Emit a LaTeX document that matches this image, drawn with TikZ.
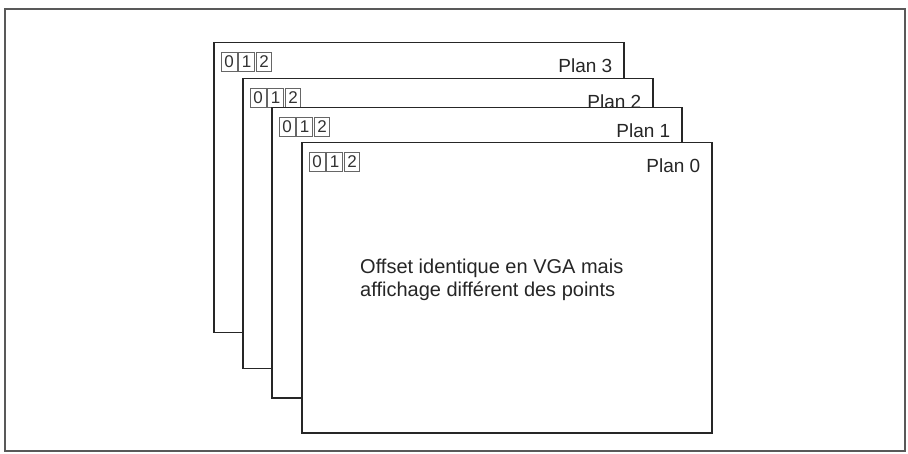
\documentclass[tikz,border=0pt]{standalone}
\usepackage{fontspec}
\setmainfont{Liberation Sans}
\begin{document}
\begin{tikzpicture}[x=1pt,y=-1pt,
  frame/.style={draw=black!65, line width=1.6pt},
  planbox/.style={draw=black!85, fill=white, line width=1.5pt, inner sep=0pt,
    minimum width=410pt, minimum height=290pt, anchor=north west},
  digitbox/.style={draw=black!60, line width=0.9pt, minimum width=15.5pt,
    minimum height=19pt, inner sep=0pt, font=\fontsize{17}{17}\selectfont, text=black!80},
  planlabel/.style={font=\fontsize{19}{19}\selectfont, text=black!85, inner sep=0pt, anchor=base east},
  captiontext/.style={anchor=north west, inner sep=0pt, align=left,
    font=\fontsize{20}{22.5}\selectfont, text=black!85}]
\useasboundingbox (0,0) rectangle (908,454);
\draw[frame] (5,9) rectangle (905,451);
\foreach \k/\l/\t in {3/213/42, 2/242/78, 1/271/107, 0/301/142}{
  \node[planbox] (plan\k) at (\l,\t) {};
  \node[planlabel] (lab\k) at ([xshift=-12pt,yshift=-31pt]plan\k.north east) {Plan \k};
  \node[digitbox, anchor=north west] (d\k-0) at ([xshift=8pt,yshift=-10pt]plan\k.north west) {0};
  \node[digitbox, anchor=west] (d\k-1) at ([xshift=1pt]d\k-0.east) {1};
  \node[digitbox, anchor=west] (d\k-2) at ([xshift=1pt]d\k-1.east) {2};
}
\node[captiontext] (caption) at (360,259) {Offset identique en VGA mais\\affichage différent des points};
\end{tikzpicture}
\end{document}
